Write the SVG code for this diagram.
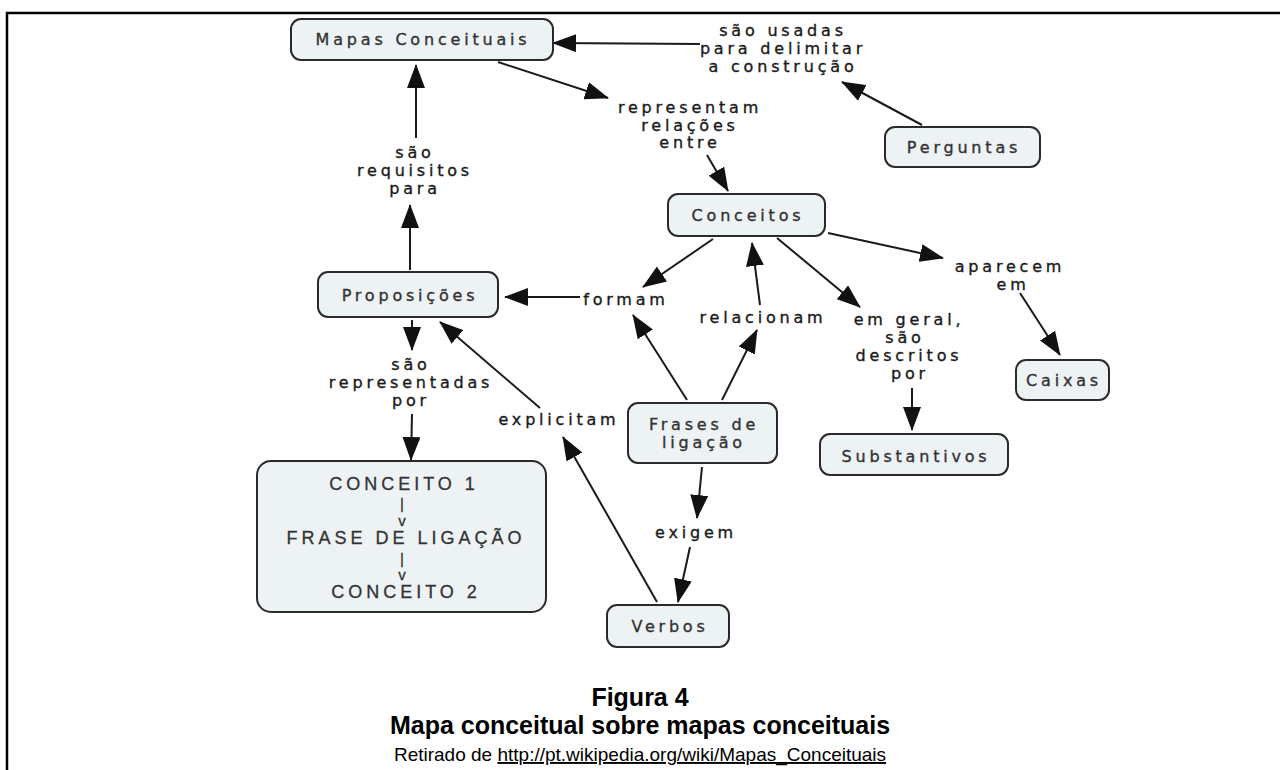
<svg xmlns="http://www.w3.org/2000/svg" width="1280" height="770" viewBox="0 0 1280 770">
<defs>
<style>
.box{fill:#edf2f5;stroke:#2a2a2a;stroke-width:2}
.nt{font-family:"DejaVu Sans",sans-serif;font-size:16px;letter-spacing:3.8px;fill:#333;stroke:#333;stroke-width:0.35;text-anchor:middle}
.lb{font-family:"DejaVu Sans",sans-serif;font-size:16px;letter-spacing:3.8px;fill:#1a1a1a;stroke:#1a1a1a;stroke-width:0.35;text-anchor:middle}
.big{font-family:"Liberation Sans",Arial,sans-serif;font-size:18px;letter-spacing:4px;fill:#333;stroke:#333;stroke-width:0.3;text-anchor:middle}
.sm{font-size:15px}
.cap{font-family:"Liberation Sans",Arial,sans-serif;fill:#000;text-anchor:middle}
.con line{stroke:#1a1a1a;stroke-width:2;marker-end:url(#ah)}
</style>
<marker id="ah" viewBox="0 0 24 18" refX="23" refY="9" markerWidth="24" markerHeight="18" markerUnits="userSpaceOnUse" orient="auto">
<path d="M0,0 L24,9 L0,18 z" fill="#111"/>
</marker>
</defs>
<rect width="1280" height="770" fill="#fff"/>
<path d="M7,770 V13 H1280" fill="none" stroke="#000" stroke-width="2.5"/>

<g id="connectors" class="con">
<line x1="700" y1="44" x2="553" y2="43"/>
<line x1="922" y1="125" x2="842" y2="82"/>
<line x1="498" y1="62" x2="608" y2="98"/>
<line x1="707" y1="155" x2="728" y2="191"/>
<line x1="416" y1="138" x2="416" y2="65"/>
<line x1="410" y1="270" x2="410" y2="205"/>
<line x1="412" y1="320" x2="412" y2="350"/>
<line x1="412" y1="414" x2="411" y2="460"/>
<line x1="580" y1="297" x2="505" y2="297"/>
<line x1="713" y1="239" x2="643" y2="287"/>
<line x1="687" y1="400" x2="633" y2="315"/>
<line x1="722" y1="400" x2="757" y2="330"/>
<line x1="760" y1="305" x2="752" y2="243"/>
<line x1="777" y1="238" x2="860" y2="307"/>
<line x1="912" y1="388" x2="912" y2="430"/>
<line x1="828" y1="233" x2="943" y2="258"/>
<line x1="1020" y1="293" x2="1060" y2="355"/>
<line x1="702" y1="467" x2="697" y2="518"/>
<line x1="690" y1="547" x2="678" y2="602"/>
<line x1="657" y1="602" x2="563" y2="437"/>
<line x1="540" y1="408" x2="440" y2="322"/>
</g>

<g id="labels">
<text class="lb" x="783" y="36">são usadas</text>
<text class="lb" x="783" y="54">para delimitar</text>
<text class="lb" x="783" y="72">a construção</text>
<text class="lb" x="690" y="113">representam</text>
<text class="lb" x="690" y="131">relações</text>
<text class="lb" x="690" y="148">entre</text>
<text class="lb" x="415" y="158">são</text>
<text class="lb" x="415" y="176">requisitos</text>
<text class="lb" x="415" y="194">para</text>
<text class="lb" x="626" y="305">formam</text>
<text class="lb" x="763" y="323">relacionam</text>
<text class="lb" x="1010" y="272">aparecem</text>
<text class="lb" x="1013" y="290">em</text>
<text class="lb" x="909" y="325">em geral,</text>
<text class="lb" x="905" y="343">são</text>
<text class="lb" x="909" y="361">descritos</text>
<text class="lb" x="910" y="379">por</text>
<text class="lb" x="411" y="370">são</text>
<text class="lb" x="411" y="388">representadas</text>
<text class="lb" x="411" y="406">por</text>
<text class="lb" x="559" y="425">explicitam</text>
<text class="lb" x="696" y="538">exigem</text>
</g>

<g id="mapas"><rect class="box" x="291" y="19" width="262" height="41" rx="10"/><text class="nt" x="423" y="45">Mapas Conceituais</text></g>
<g id="perguntas"><rect class="box" x="885" y="127" width="155" height="40" rx="10"/><text class="nt" x="964" y="153">Perguntas</text></g>
<g id="conceitos"><rect class="box" x="668" y="194" width="157" height="42" rx="10"/><text class="nt" x="748" y="221">Conceitos</text></g>
<g id="proposicoes"><rect class="box" x="318" y="272" width="180" height="45" rx="10"/><text class="nt" x="410" y="301">Proposições</text></g>
<g id="caixas"><rect class="box" x="1016" y="360" width="93" height="40" rx="10"/><text class="nt" x="1064" y="386">Caixas</text></g>
<g id="substantivos"><rect class="box" x="820" y="434" width="188" height="41" rx="10"/><text class="nt" x="916" y="462">Substantivos</text></g>
<g id="frases"><rect class="box" x="628" y="403" width="149" height="60" rx="10"/><text class="nt" x="704" y="430">Frases de</text><text class="nt" x="704" y="448">ligação</text></g>
<g id="verbos"><rect class="box" x="607" y="605" width="122" height="42" rx="10"/><text class="nt" x="670" y="632">Verbos</text></g>
<g id="exemplo"><rect class="box" x="257" y="461" width="289" height="151" rx="14"/>
<text class="big" x="404" y="490">CONCEITO 1</text>
<text class="big sm" x="404" y="509">|</text>
<text class="big sm" x="404" y="526">v</text>
<text class="big" x="406" y="544">FRASE DE LIGAÇÃO</text>
<text class="big sm" x="404" y="564">|</text>
<text class="big sm" x="404" y="580">v</text>
<text class="big" x="406" y="598">CONCEITO 2</text>
</g>

<g id="caption">
<text class="cap" x="640" y="706" font-size="25" font-weight="bold">Figura 4</text>
<text class="cap" x="640" y="734" font-size="25" font-weight="bold">Mapa conceitual sobre mapas conceituais</text>
<text class="cap" x="640" y="761" font-size="19">Retirado de <tspan text-decoration="underline">http://pt.wikipedia.org/wiki/Mapas_Conceituais</tspan></text>
</g>
</svg>
